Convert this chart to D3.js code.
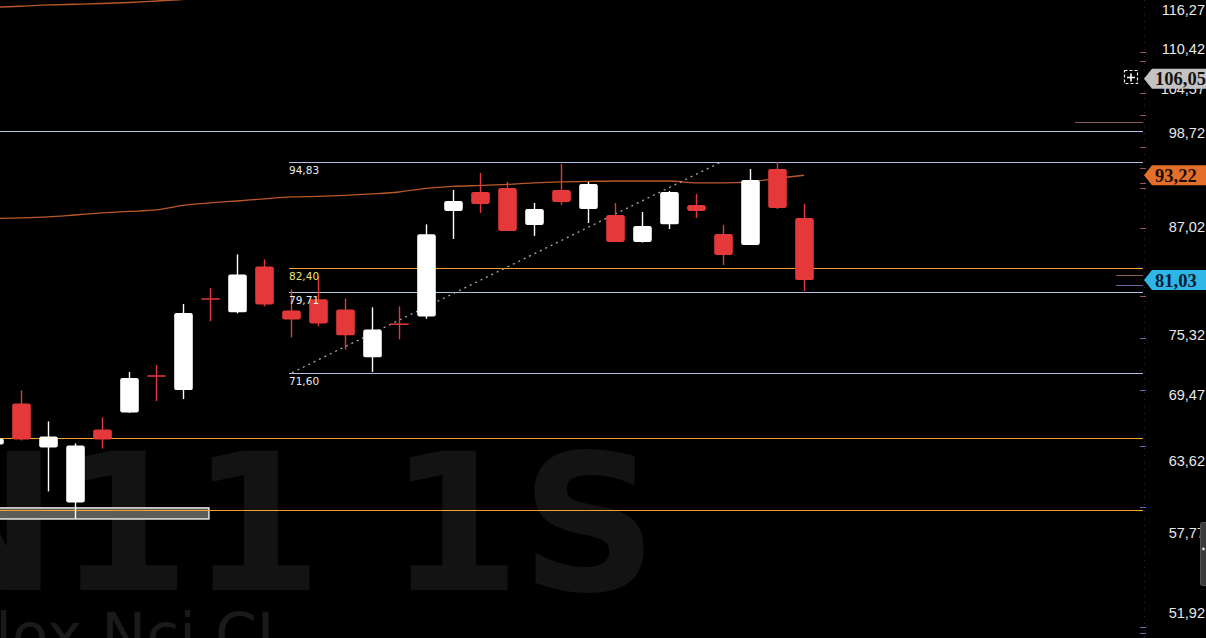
<!DOCTYPE html>
<html><head><meta charset="utf-8">
<script src="https://cdn.jsdelivr.net/npm/d3@7"></script>
<style>html,body{margin:0;padding:0;background:#000;overflow:hidden}</style>
</head><body>
<svg id="c" width="1206" height="638"></svg>
<script>
// ---- data (weekly candles, index 0..30) ----
const opens  = [65.05,68.71,64.79,60.19,66.37,67.89,71.30,69.95,79.02,77.61,82.53,77.81,78.97,77.92,73.08,76.40,77.19,88.88,91.16,91.65,87.23,91.41,89.12,88.40,85.27,87.30,89.59,86.19,84.93,94.00,88.05];
const highs  = [65.70,69.92,67.08,65.14,67.44,71.66,72.33,78.48,80.17,83.86,83.31,80.03,81.43,79.07,78.13,78.23,87.30,91.41,93.51,92.39,89.83,94.63,92.39,89.83,88.76,91.29,90.92,87.23,94.00,94.88,89.71];
const lows   = [64.95,65.40,61.09,58.92,64.69,67.85,68.93,69.12,76.71,77.50,78.23,75.06,76.17,73.86,71.66,74.86,76.95,85.61,88.64,86.53,85.96,89.59,87.46,85.27,85.20,86.76,88.05,82.69,84.93,89.12,79.86];
const closes = [65.57,65.49,65.75,64.96,65.49,71.08,71.27,77.54,79.00,81.65,78.44,76.88,76.47,75.26,75.86,76.37,86.14,90.07,89.71,86.53,89.12,89.95,92.14,85.27,87.11,91.16,88.88,83.80,92.64,89.23,81.03];
const maValues = [87.99,88.05,88.17,88.40,88.64,88.82,89.00,89.53,89.83,90.07,90.32,90.56,90.62,90.74,90.92,91.16,91.59,91.84,91.96,92.08,92.27,92.39,92.45,92.51,92.51,92.51,92.27,92.27,92.39,92.85,93.22];
const ma2Values = [116.70,116.85,117.05,117.16,117.28,117.44,117.67,117.92];
const tickValues = [116.27,110.42,104.57,98.72,92.87,87.02,81.17,75.32,69.47,63.62,57.77,51.92];
const fullLevels = [98.92, 65.61, 59.59];
const fullLevelKinds = ["blue","orange","orange"];
const labeledLevels = [94.83, 82.40, 79.71, 71.60];
const labeledKinds = ["blue","orange","blue","blue"];
const labeledText = ["94,83","82,40","79,71","71,60"];
const trendIdx = [11.04, 26.9];
const trendVals = [71.60, 94.83];
const boxIdx = [-1, 7.96];
const boxVals = [59.76, 58.88];
const shortLevels = [100.10, 81.58, 80.50];
const shortKinds = ["pink","pink","violet"];
const pinkMarks = [109.92,108.61,104.06,101.04,96.81,94.13,92.26,91.65,86.88,79.33];
const blueMarks = [75.00,69.96,64.91,59.83,50.96,50.55];
const tags = [
  {v:106.05, fill:"#c3c3c3", text:"#111111"},
  {v:93.22,  fill:"#e36f2a", text:"#1a0c02"},
  {v:81.03,  fill:"#2db6e6", text:"#071a33"}
];

// ---- setup ----
const W=1206, H=638, plotRight=1143;
const svg = d3.select("#c");
svg.append("rect").attr("width",W).attr("height",H).attr("fill","#000");
const x = d3.scaleLinear().domain([0,30]).range([-6,804]);
const y = d3.scaleLog().domain([50.22,117.83]).range([H,0]);
const fmt = v => d3.format(".2f")(v).replace(".",",");
const colors = {blue:"#b3c1e4", orange:"#f0a22c", pink:"#8e5b5b", violet:"#6a6aa8"};

svg.append("defs").append("clipPath").attr("id","plot")
  .append("rect").attr("x",0).attr("y",0).attr("width",plotRight).attr("height",H);

// ---- watermark ----
svg.append("text").attr("x",-101).attr("y",590)
  .attr("font-family","DejaVu Sans").attr("font-weight","bold").attr("font-size",190)
  .attr("fill","#131313").text("N11 1S");
svg.append("text").attr("x",-46).attr("y",656)
  .attr("font-family","DejaVu Sans").attr("font-size",60)
  .attr("fill","#1a1a1a").text("Blox Nci CI");

const g = svg.append("g").attr("clip-path","url(#plot)");

// selection box
g.append("rect").attr("x",x(boxIdx[0])).attr("y",y(boxVals[0]))
  .attr("width",x(boxIdx[1])-x(boxIdx[0])).attr("height",y(boxVals[1])-y(boxVals[0]))
  .attr("fill","#5c5c58").attr("stroke","#f2f2f2").attr("stroke-width",1.4);

// full-width levels
fullLevels.forEach((v,i)=>{
  g.append("line").attr("x1",0).attr("x2",plotRight).attr("y1",Math.round(y(v))+0.5).attr("y2",Math.round(y(v))+0.5)
   .attr("stroke",colors[fullLevelKinds[i]]).attr("stroke-width",1);
});
// labeled levels (lines)
labeledLevels.forEach((v,i)=>{
  const yy=Math.round(y(v))+0.5;
  g.append("line").attr("x1",289).attr("x2",plotRight).attr("y1",yy).attr("y2",yy)
   .attr("stroke",colors[labeledKinds[i]]).attr("stroke-width",1);
});
// short levels near axis
shortLevels.forEach((v,i)=>{
  const yy=Math.round(y(v))+0.5;
  svg.append("line").attr("x1", i===0?1075:1116).attr("x2",plotRight).attr("y1",yy).attr("y2",yy)
   .attr("stroke",colors[shortKinds[i]]).attr("stroke-width",1);
});

// moving averages
const line = d3.line().x((d,i)=>x(i)).y(d=>y(d)).curve(d3.curveMonotoneX);
g.append("path").datum(maValues).attr("d",line).attr("fill","none")
  .attr("stroke","#b9582a").attr("stroke-width",1.3);
g.append("path").datum(ma2Values).attr("d",line).attr("fill","none")
  .attr("stroke","#b9582a").attr("stroke-width",1.3);

// trend line (dotted)
g.append("line").attr("x1",x(trendIdx[0])).attr("y1",y(trendVals[0]))
  .attr("x2",x(trendIdx[1])).attr("y2",y(trendVals[1]))
  .attr("stroke","#a8a8a8").attr("stroke-width",1.3).attr("stroke-dasharray","2,4");

// candles
const idx = d3.range(opens.length);
const up = i => closes[i] >= opens[i];
const col = i => up(i) ? "#ffffff" : "#e5383b";
const cg = g.append("g");
idx.forEach(i=>{
  const cx = Math.round(x(i))+0.5;
  cg.append("line").attr("x1",cx).attr("x2",cx).attr("y1",y(highs[i])).attr("y2",y(lows[i]))
    .attr("stroke",col(i)).attr("stroke-width",1.4);
  const top = y(Math.max(opens[i],closes[i])), bot = y(Math.min(opens[i],closes[i]));
  const h = Math.max(1.6, bot-top);
  cg.append("rect").attr("x",cx-9.3).attr("y",h===1.6?(top+bot)/2-0.8:top)
    .attr("width",18.6).attr("height",h).attr("rx",h>4?2.2:0.5)
    .attr("fill",col(i));
});

// level labels on top
labeledLevels.forEach((v,i)=>{
  const yy=Math.round(y(v))+0.5;
  g.append("text").attr("x",289).attr("y",yy+11.5)
   .attr("font-family","DejaVu Sans").attr("font-size",10.5)
   .attr("fill", labeledKinds[i]==="orange" ? "#ece27a" : "#ececec").text(labeledText[i]);
});

// ---- right axis ----
svg.append("line").attr("x1",1144.5).attr("x2",1144.5).attr("y1",0).attr("y2",H)
  .attr("stroke","#2a2a3a").attr("stroke-dasharray","1,6");
pinkMarks.forEach(v=>{
  svg.append("line").attr("x1",1140).attr("x2",1146).attr("y1",Math.round(y(v))+0.5).attr("y2",Math.round(y(v))+0.5)
   .attr("stroke",colors.pink).attr("stroke-width",1);
});
blueMarks.forEach(v=>{
  svg.append("line").attr("x1",1140).attr("x2",1146).attr("y1",Math.round(y(v))+0.5).attr("y2",Math.round(y(v))+0.5)
   .attr("stroke",colors.violet).attr("stroke-width",1);
});
const axis = d3.axisRight(y).tickValues(tickValues).tickFormat(fmt).tickSize(0).tickPadding(0);
const ag = svg.append("g").attr("transform","translate(1206,0)").call(axis);
ag.select(".domain").remove();
ag.selectAll("text").attr("text-anchor","end").attr("x",-1)
  .attr("font-family","Liberation Sans").attr("font-size",14.5).attr("fill","#e8e8e8");

// crosshair icon
svg.append("rect").attr("x",1124.5).attr("y",70.5).attr("width",13).attr("height",13)
  .attr("fill","none").attr("stroke","#f0f0f0").attr("stroke-width",1.2).attr("stroke-dasharray","3,2");
svg.append("path").attr("d","M1131,73.5V81.5M1127,77.5H1135").attr("stroke","#ffffff").attr("stroke-width",1.6);

// price tags
tags.forEach(t=>{
  const cy = y(t.v);
  svg.append("path").attr("d",`M1144,${cy} L1152,${cy-10} L1206,${cy-10} L1206,${cy+10} L1152,${cy+10} Z`)
    .attr("fill",t.fill);
  svg.append("text").attr("x",1155).attr("y",cy+6.5)
    .attr("font-family","Liberation Serif").attr("font-weight","bold").attr("font-size",18.5)
    .attr("fill",t.text).text(fmt(t.v));
});

// scrollbar
svg.append("rect").attr("x",1200.5).attr("y",522.5).attr("width",8).attr("height",63).attr("rx",2)
  .attr("fill","#3a3a3a").attr("stroke","#555");
svg.append("circle").attr("cx",1203.5).attr("cy",549).attr("r",1.4).attr("fill","#ddd");
</script>
</body></html>
